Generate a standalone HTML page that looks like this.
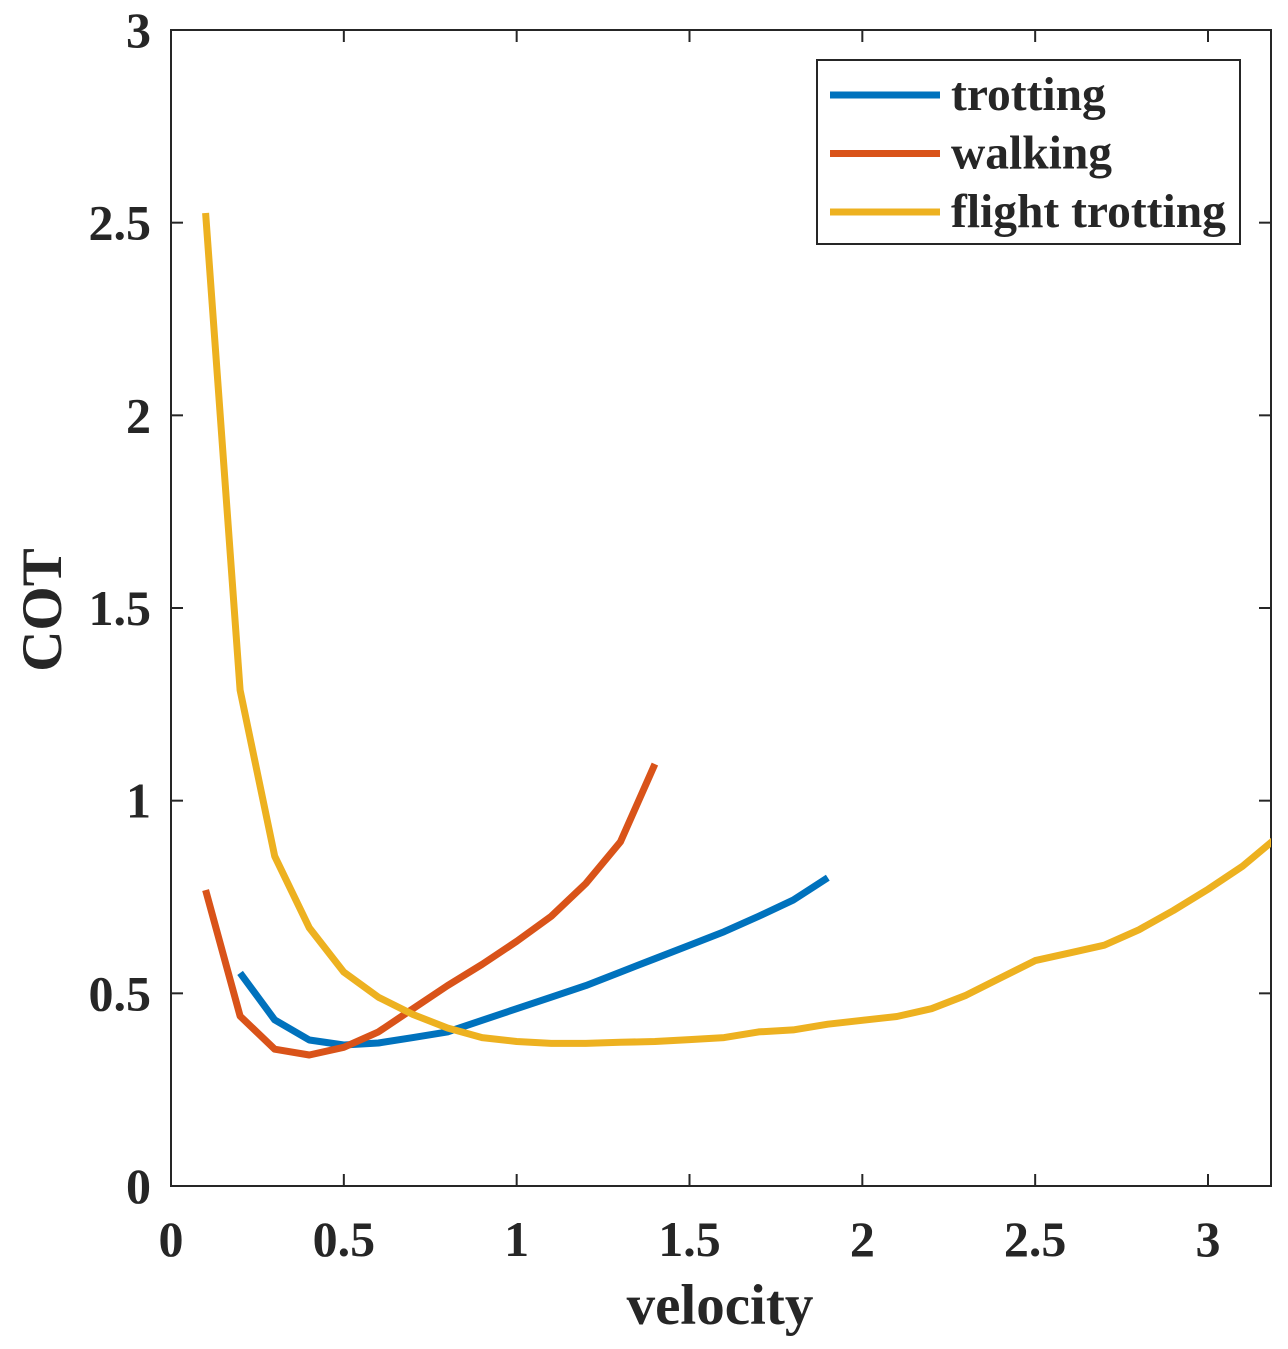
<!DOCTYPE html>
<html><head><meta charset="utf-8"><style>
html,body{margin:0;padding:0;background:#fff;}
svg text{font-family:"Liberation Serif",serif;font-weight:bold;fill:#262626;}
</style></head><body>
<svg id="chart" width="1288" height="1344" xmlns="http://www.w3.org/2000/svg">
<defs><clipPath id="clip"><rect x="171" y="30" width="1100" height="1156"/></clipPath></defs>
<g id="axes"></g>
<g id="series" clip-path="url(#clip)"></g>
<g id="legend"></g>
</svg>
<script>
const xTicks=[0,0.5,1,1.5,2,2.5,3];
const xTickLabels=["0","0.5","1","1.5","2","2.5","3"];
const yTicks=[0,0.5,1,1.5,2,2.5,3];
const yTickLabels=["0","0.5","1","1.5","2","2.5","3"];
const seriesNames=["trotting","walking","flight trotting"];
const trotX=[0.2,0.3,0.4,0.5,0.6,0.7,0.8,0.9,1.0,1.1,1.2,1.3,1.4,1.5,1.6,1.7,1.8,1.9];
const trotY=[0.553,0.431,0.379,0.366,0.371,0.385,0.40,0.43,0.46,0.49,0.52,0.555,0.59,0.625,0.66,0.70,0.742,0.80];
const walkX=[0.1,0.2,0.3,0.4,0.5,0.6,0.7,0.8,0.9,1.0,1.1,1.2,1.3,1.4];
const walkY=[0.768,0.441,0.355,0.34,0.36,0.40,0.46,0.52,0.575,0.635,0.70,0.785,0.893,1.095];
const flightX=[0.1,0.2,0.3,0.4,0.5,0.6,0.7,0.8,0.9,1.0,1.1,1.2,1.3,1.4,1.5,1.6,1.7,1.8,1.9,2.0,2.1,2.2,2.3,2.4,2.5,2.6,2.7,2.8,2.9,3.0,3.1,3.2];
const flightY=[2.525,1.287,0.856,0.67,0.555,0.49,0.445,0.41,0.385,0.375,0.37,0.37,0.373,0.375,0.38,0.385,0.40,0.405,0.42,0.43,0.44,0.46,0.495,0.54,0.585,0.605,0.625,0.665,0.715,0.77,0.83,0.905];
const colors=["#0072BD","#D95319","#EDB120"];

const L=171,R=1271,T=30,B=1186;
const xs=v=>L+v*(1208-171)/3;
const ys=v=>B-v*(B-T)/3;
const NS="http://www.w3.org/2000/svg";
function mk(tag,attrs,parent){const e=document.createElementNS(NS,tag);for(const k in attrs)e.setAttribute(k,attrs[k]);parent.appendChild(e);return e;}
const axes=document.getElementById('axes');
const box=mk('rect',{x:L,y:T,width:R-L,height:B-T,fill:'none',stroke:'#262626','stroke-width':2},axes);


xTicks.forEach((v,i)=>{
  const x=xs(v);
  const t1=mk('line',{x1:x,y1:B,x2:x,y2:B-12,stroke:'#262626','stroke-width':2},axes);
  
  
  const t2=mk('line',{x1:x,y1:T,x2:x,y2:T+12,stroke:'#262626','stroke-width':2},axes);
  
  
  const tx=mk('text',{x:x,y:1256,'font-size':50,'text-anchor':'middle'},axes);
  tx.textContent=xTickLabels[i];
  
  
});
yTicks.forEach((v,i)=>{
  const y=ys(v);
  const t1=mk('line',{x1:L,y1:y,x2:L+12,y2:y,stroke:'#262626','stroke-width':2},axes);
  
  
  const t2=mk('line',{x1:R,y1:y,x2:R-12,y2:y,stroke:'#262626','stroke-width':2},axes);
  
  
  const tx=mk('text',{x:151,y:y+17,'font-size':50,'text-anchor':'end'},axes);
  tx.textContent=yTickLabels[i];
  
  
});
const xl=mk('text',{x:720,y:1324,'font-size':57,'text-anchor':'middle'},axes);
xl.textContent='velocity';


const yl=mk('text',{x:0,y:0,'font-size':57,'text-anchor':'middle',transform:'translate(61,610) rotate(-90)'},axes);
yl.textContent='COT';



const sg=document.getElementById('series');
const data=[[trotX,trotY],[walkX,walkY],[flightX,flightY]];
const snames=['trotting-line','walking-line','flight-trotting-line'];
data.forEach((d,i)=>{
  const pts=d[0].map((x,j)=>xs(x).toFixed(1)+','+ys(d[1][j]).toFixed(1)).join(' ');
  const p=mk('polyline',{points:pts,fill:'none',stroke:colors[i],'stroke-width':7,'stroke-linejoin':'round'},sg);
  
  
});

const lg=document.getElementById('legend');
const lb=mk('rect',{x:817,y:60,width:423,height:184,fill:'#fff',stroke:'#262626','stroke-width':2},lg);


seriesNames.forEach((n,i)=>{
  const y=95+i*58.5;
  const ln=mk('line',{x1:830,y1:y,x2:940,y2:y,stroke:colors[i],'stroke-width':7},lg);
  
  
  const tx=mk('text',{x:951,y:y+15,'font-size':47.5},lg);
  tx.textContent=n;
  
  
});
</script>
</body></html>
